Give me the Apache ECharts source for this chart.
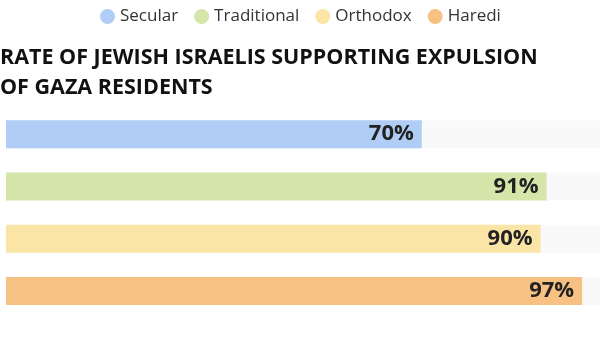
<!DOCTYPE html>
<html>
<head>
<meta charset="utf-8">
<script src="https://cdn.jsdelivr.net/npm/echarts@6/dist/echarts.min.js"></script>
<style>
  html, body { margin: 0; padding: 0; background: #fff; }
  #chart { width: 600px; height: 353px; }
</style>
</head>
<body>
<div id="chart"></div>
<script>
// 数据
const groups = ['Secular', 'Traditional', 'Orthodox', 'Haredi'];
const rates = [70, 91, 90, 97];
const colors = ['#b0cdf6', '#d4e6a9', '#fbe5a6', '#f6c182'];
const trackMax = 100;

const chart = echarts.init(document.getElementById('chart'));

// 背景轨道
const series = [{
    name: 'track',
    type: 'bar',
    data: groups.map(() => trackMax),
    barWidth: 28,
    barGap: '-100%',
    itemStyle: { color: '#f9f9f9' },
    silent: true,
    z: 1
}];

// 每组一个系列，便于图例着色
groups.forEach((g, i) => {
    series.push({
        name: g,
        type: 'bar',
        data: groups.map((_, j) => (j === i ? rates[i] : '-')),
        barWidth: 28,
        barGap: '-100%',
        itemStyle: { color: colors[i] },
        label: {
            show: true,
            position: 'insideRight',
            distance: 8,
            formatter: '{c}%',
            fontFamily: 'Open Sans',
            fontWeight: 'bold',
            fontSize: 22,
            color: '#222'
        },
        z: 2
    });
});

chart.setOption({
    animation: false,
    title: {
        text: 'RATE OF JEWISH ISRAELIS SUPPORTING EXPULSION\nOF GAZA RESIDENTS',
        left: -5,
        top: 38,
        textStyle: {
            fontFamily: 'Open Sans',
            fontWeight: 'bold',
            fontSize: 21.5,
            lineHeight: 30,
            color: '#111'
        }
    },
    legend: {
        data: groups,
        top: 3,
        left: 95,
        icon: 'circle',
        itemWidth: 15,
        itemHeight: 15,
        itemGap: 16,
        textStyle: { fontFamily: 'Open Sans', fontSize: 17, color: '#333' }
    },
    grid: { left: 6, right: 0, top: 108, bottom: 36 },
    xAxis: { type: 'value', min: 0, max: trackMax, show: false },
    yAxis: { type: 'category', data: groups, inverse: true, show: false },
    series: series
});
</script>
</body>
</html>
